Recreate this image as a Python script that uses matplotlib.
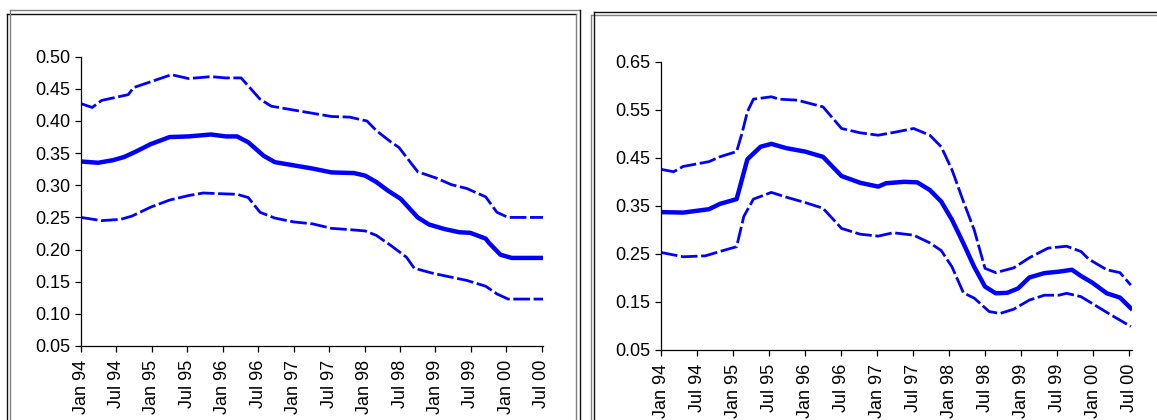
import matplotlib
matplotlib.use("Agg")
import matplotlib.pyplot as plt
from matplotlib.lines import Line2D

plt.rcParams['font.family'] = ['Liberation Sans', 'DejaVu Sans']

W, H = 1157, 420

# --- DATA (months since Jan 94, values) ---
tick_labels = ["Jan 94", "Jul 94", "Jan 95", "Jul 95", "Jan 96", "Jul 96", "Jan 97",
               "Jul 97", "Jan 98", "Jul 98", "Jan 99", "Jul 99", "Jan 00", "Jul 00"]
tick_months = [0, 6, 12, 18, 24, 30, 36, 42, 48, 54, 60, 66, 72, 78]

# left panel
l_mid_x = [0, 2.9, 5.4, 7.3, 9.2, 11.8, 15, 18.2, 22, 24.5, 26.4, 28.3, 30.9, 32.8, 36, 39.2,
           42.4, 46.2, 48.1, 50, 51.9, 54.1, 55.7, 57, 58.9, 61.5, 64, 65.9, 68.5, 69.1, 71,
           72.9, 78.3]
l_mid_y = [0.337, 0.335, 0.339, 0.344, 0.352, 0.364, 0.375, 0.376, 0.379, 0.376, 0.376, 0.367,
           0.346, 0.336, 0.331, 0.326, 0.320, 0.319, 0.315, 0.305, 0.292, 0.279, 0.263, 0.250,
           0.239, 0.232, 0.227, 0.226, 0.217, 0.210, 0.192, 0.187, 0.187]
l_up_x = [0, 1.9, 3.5, 8, 8.9, 11.8, 15.3, 18.2, 22, 24.5, 27.1, 30.3, 32.2, 36, 39.2, 42.4,
          45.5, 48.4, 50, 52.5, 53.8, 57, 60.2, 62.7, 65.3, 68.5, 70.4, 72.3, 78.3]
l_up_y = [0.427, 0.421, 0.432, 0.441, 0.452, 0.461, 0.472, 0.466, 0.469, 0.467, 0.467, 0.434,
          0.423, 0.417, 0.412, 0.407, 0.406, 0.400, 0.385, 0.367, 0.359, 0.321, 0.311, 0.301,
          0.295, 0.282, 0.258, 0.250, 0.250]
l_lo_x = [0, 3.5, 6.7, 8.6, 11.8, 15, 18.2, 20.7, 23.2, 26.4, 28.3, 30.3, 32.8, 36, 39.2, 42.4,
          45.5, 48.1, 50, 52.5, 55.1, 56.4, 59.6, 62.7, 65.3, 68.5, 70.4, 72.3, 78.3]
l_lo_y = [0.250, 0.245, 0.247, 0.252, 0.266, 0.277, 0.284, 0.288, 0.287, 0.286, 0.281, 0.258,
          0.249, 0.243, 0.240, 0.233, 0.231, 0.229, 0.222, 0.206, 0.188, 0.171, 0.163, 0.157,
          0.152, 0.143, 0.131, 0.123, 0.123]

# right panel
r_mid_x = [0, 3.7, 8, 9.8, 12.6, 14.4, 16.6, 18.4, 20.9, 24, 27, 30.1, 33.2, 36.2, 37.5, 40.5,
           42.7, 44.8, 46.7, 48.5, 50.4, 52.2, 54, 55.8, 57.7, 59.5, 61.4, 63.9, 66.3, 68.5,
           70, 71.9, 74.3, 76.5, 78.3]
r_mid_y = [0.337, 0.336, 0.343, 0.354, 0.364, 0.447, 0.473, 0.479, 0.470, 0.463, 0.452, 0.412,
           0.398, 0.390, 0.397, 0.400, 0.399, 0.383, 0.359, 0.321, 0.272, 0.223, 0.182, 0.168,
           0.169, 0.178, 0.201, 0.210, 0.213, 0.217, 0.204, 0.190, 0.168, 0.159, 0.137]
r_up_x = [0, 2.1, 3.7, 8, 9.8, 12.6, 13.5, 14.4, 15.4, 18.4, 19.7, 22.7, 27, 30.1, 33.2, 36.2,
          39.3, 42.1, 44.8, 46.7, 48.5, 50.4, 52.2, 54, 55.8, 58.8, 61.4, 64.5, 67.6, 70,
          71.3, 74.3, 76.5, 78.3]
r_up_y = [0.426, 0.421, 0.432, 0.442, 0.452, 0.463, 0.501, 0.546, 0.572, 0.577, 0.572, 0.570,
          0.556, 0.511, 0.502, 0.497, 0.504, 0.511, 0.497, 0.473, 0.425, 0.359, 0.300, 0.220,
          0.211, 0.221, 0.242, 0.262, 0.266, 0.255, 0.239, 0.217, 0.211, 0.185]
r_lo_x = [0, 3.7, 7.4, 9.8, 12.6, 13.8, 15.4, 18.4, 20.9, 24, 27, 30.1, 33.2, 36.2, 38.7, 42.1,
          44.8, 46.7, 48.5, 50.4, 52.2, 54.7, 56.5, 58.8, 61.4, 63.9, 66.3, 67.6, 70, 72.5,
          75, 78.3]
r_lo_y = [0.253, 0.244, 0.246, 0.255, 0.265, 0.328, 0.364, 0.378, 0.368, 0.357, 0.345, 0.303,
          0.291, 0.287, 0.294, 0.289, 0.273, 0.257, 0.223, 0.169, 0.158, 0.130, 0.126, 0.135,
          0.154, 0.164, 0.164, 0.168, 0.161, 0.142, 0.123, 0.099]

left_yticks = [0.05, 0.10, 0.15, 0.20, 0.25, 0.30, 0.35, 0.40, 0.45, 0.50]
right_yticks = [0.05, 0.15, 0.25, 0.35, 0.45, 0.55, 0.65]

BLUE = "#0000ff"

fig = plt.figure(figsize=(W / 100, H / 100), dpi=100)


def px_axes(x0, x1, ytop, ybot):
    return fig.add_axes([x0 / W, (H - ybot) / H, (x1 - x0) / W, (ybot - ytop) / H])


def style(ax, yticks, xmax):
    ax.set_xlim(0, xmax)
    ax.set_ylim(yticks[0], yticks[-1])
    ax.set_yticks(yticks)
    ax.set_yticklabels([f"{v:.2f}" for v in yticks])
    ax.set_xticks(tick_months)
    ax.set_xticklabels(tick_labels, rotation=90)
    for s in ["top", "right"]:
        ax.spines[s].set_visible(False)
    for s in ["left", "bottom"]:
        ax.spines[s].set_linewidth(0.9)
    ax.tick_params(direction="out", length=4, width=0.9, labelsize=13)
    ax.tick_params(axis="x", pad=6)
    ax.tick_params(axis="y", pad=3.5)
    ax.patch.set_alpha(0)


def draw(ax, mx, my, ux, uy, lx, ly):
    ax.plot(ux, uy, color=BLUE, lw=2.0, dashes=(6, 1.3), solid_joinstyle="round")
    ax.plot(lx, ly, color=BLUE, lw=2.0, dashes=(6, 1.3), solid_joinstyle="round")
    ax.plot(mx, my, color=BLUE, lw=3.2, solid_joinstyle="round")


axl = px_axes(81, 543, 56.7, 346)
style(axl, left_yticks, 78.2)
draw(axl, l_mid_x, l_mid_y, l_up_x, l_up_y, l_lo_x, l_lo_y)

axr = px_axes(661, 1132, 61.7, 350)
style(axr, right_yticks, 78.5)
draw(axr, r_mid_x, r_mid_y, r_up_x, r_up_y, r_lo_x, r_lo_y)


# --- panel frames (double borders) ---
def fline(xs, ys, color):
    fig.add_artist(Line2D([x / W for x in xs], [(H - y) / H for y in ys],
                          transform=fig.transFigure, color=color, lw=1.0))


DARK, GREY = "#111111", "#808080"
fline([10, 580], [10, 10], GREY)
fline([6.5, 576], [14, 14], DARK)
fline([6.5, 6.5], [14, 425], DARK)
fline([10, 10], [10, 425], GREY)
fline([576, 576], [14, 425], GREY)
fline([580, 580], [10, 425], DARK)

fline([594.5, 1160], [11.5, 11.5], DARK)
fline([591, 1160], [15.3, 15.3], GREY)
fline([591, 591], [15.3, 425], GREY)
fline([594.5, 594.5], [11.5, 425], DARK)

fig.savefig("out.png", dpi=100)
